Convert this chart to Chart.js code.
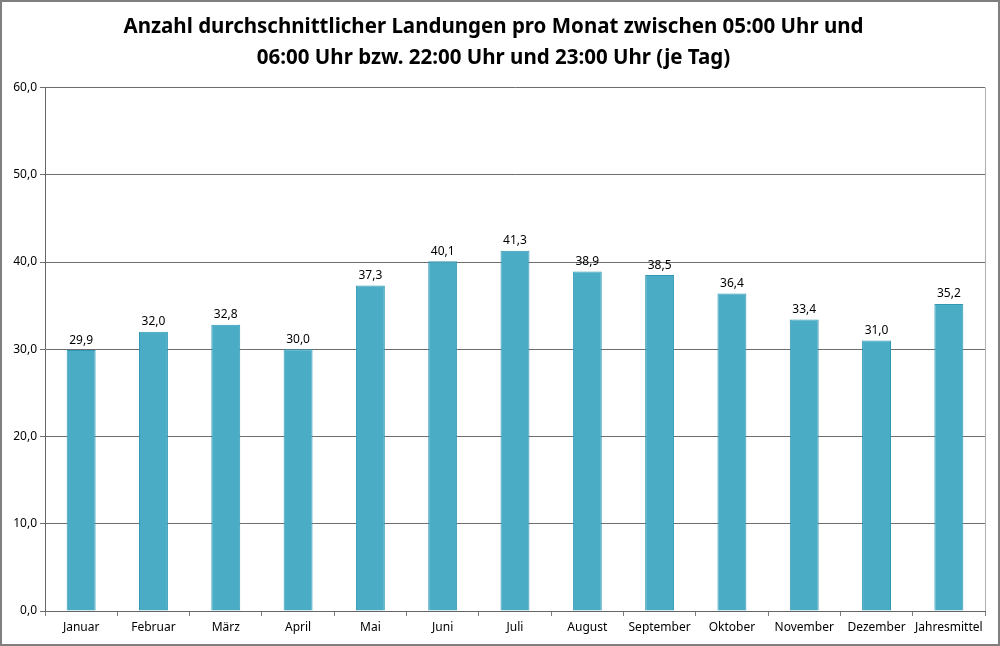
<!DOCTYPE html>
<html>
<head>
<meta charset="utf-8">
<script src="https://cdn.jsdelivr.net/npm/chart.js@4/dist/chart.umd.min.js"></script>
<style>
  body { margin: 0; background: #fff; }
  #wrap { width: 1000px; height: 646px; box-sizing: border-box; border: 2px solid #7f7f7f; }
</style>
</head>
<body>
<div id="wrap"><canvas id="myChart" width="996" height="642"></canvas></div>
<script>
const months = ['Januar', 'Februar', 'März', 'April', 'Mai', 'Juni', 'Juli', 'August', 'September', 'Oktober', 'November', 'Dezember', 'Jahresmittel'];
const landungen = [29.9, 32.0, 32.8, 30.0, 37.3, 40.1, 41.3, 38.9, 38.5, 36.4, 33.4, 31.0, 35.2];
const titleLines = ['Anzahl durchschnittlicher Landungen pro Monat zwischen 05:00 Uhr und', '06:00 Uhr bzw. 22:00 Uhr und 23:00 Uhr (je Tag)'];

const fmt = v => v.toFixed(1).replace('.', ',');

// value labels above the bars + light right border of the plot area
const barLabels = {
    id: 'barLabels',
    afterDatasetsDraw(chart) {
        const c = chart.ctx;
        const meta = chart.getDatasetMeta(0);
        c.save();
        c.font = '12px "Noto Sans", sans-serif';
        c.fillStyle = '#000';
        c.textAlign = 'center';
        c.textBaseline = 'bottom';
        meta.data.forEach((bar, i) => {
            c.fillText(fmt(landungen[i]), bar.x, bar.y - 4);
        });
        const a = chart.chartArea;
        c.strokeStyle = '#b0b0b0';
        c.lineWidth = 1;
        c.beginPath();
        c.moveTo(a.right + 0.5, a.top);
        c.lineTo(a.right + 0.5, a.bottom);
        c.stroke();
        c.restore();
    }
};

const ctx = document.getElementById('myChart').getContext('2d');
const myChart = new Chart(ctx, {
    type: 'bar',
    data: {
        labels: months,
        datasets: [{
            data: landungen,
            backgroundColor: '#4bacc6',
            borderColor: '#2f98b4',
            borderWidth: 1,
            categoryPercentage: 1,
            barPercentage: 0.4
        }]
    },
    options: {
        responsive: false,
        animation: false,
        layout: { padding: { left: 0, right: 13, top: 0, bottom: 0 } },
        plugins: {
            legend: { display: false },
            tooltip: { enabled: false },
            title: {
                display: true,
                text: titleLines,
                color: '#000',
                font: { family: '"Noto Sans", sans-serif', size: 20.5, weight: 'bold', lineHeight: 1.5 },
                padding: { top: 10, bottom: 14 }
            }
        },
        scales: {
            x: {
                grid: { offset: true, drawOnChartArea: false, color: '#808080', tickLength: 5 },
                border: { color: '#666' },
                ticks: { color: '#000', font: { family: '"Noto Sans", sans-serif', size: 12 }, padding: 4, maxRotation: 0, autoSkip: false },
                afterFit: s => { s.height = 33; }
            },
            y: {
                min: 0,
                max: 60,
                grid: { color: '#6e6e6e', tickLength: 5 },
                border: { color: '#666' },
                ticks: { stepSize: 10, color: '#000', font: { family: '"Noto Sans", sans-serif', size: 12 }, padding: 3, callback: v => fmt(v) },
                afterFit: s => { s.width = 43; }
            }
        }
    },
    plugins: [barLabels]
});
</script>
</body>
</html>
